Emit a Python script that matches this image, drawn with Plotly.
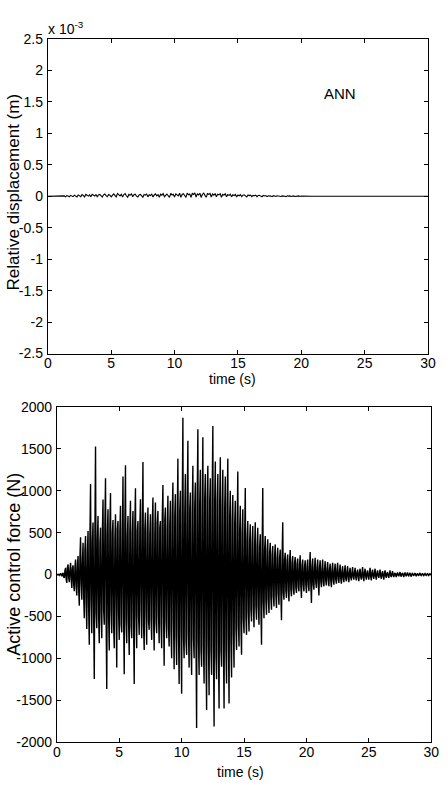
import plotly.graph_objects as go

# ---- data ----
# Active control force (N), sampled every 0.05 s from 0 to 30 s (one row = 1 s)
force_dt = 0.05
force = [
    0, -3, 5, 2, -10, 4, 15, -8, -20, 10, 20, -30, -40, 50, 80, -60, -100, 90, 120, -40,
    -90, 60, 140, -50, -160, 80, 110, -120, -200, 90, 180, -150, -250, 120, 220, -180, -371, 200, 444, -100,
    -300, 150, 380, -260, -520, 300, 460, -350, -650, 280, 520, -400, -838, 450, 1080, -300, -700, 400, 620, -500,
    -1248, 500, 1530, -450, -640, 420, 700, -500, -820, 380, 560, -480, -760, 520, 896, -420, -600, 600, 1150, -550,
    -1365, 480, 780, -520, -907, 560, 974, -450, -700, 500, 650, -600, -880, 420, 720, -380, -1111, 550, 640, -470,
    -780, 520, 820, -600, -690, 480, 1170, -500, -1189, 620, 1305, -540, -820, 450, 700, -560, -960, 530, 880, -610,
    -760, 500, 760, -580, -1306, 600, 1030, -470, -880, 520, 640, -500, -720, 560, 900, -430, -760, 580, 1345, -620,
    -900, 540, 740, -480, -838, 500, 800, -560, -660, 470, 720, -530, -780, 600, 920, -520, -907, 480, 860, -570,
    -700, 620, 760, -500, -820, 560, 640, -600, -880, 700, 1070, -480, -1090, 650, 800, -560, -760, 540, 940, -640,
    -860, 600, 880, -680, -1000, 720, 1100, -560, -1130, 700, 960, -720, -1080, 650, 1384, -700, -1306, 760, 1000, -680,
    -1423, 800, 1871, -760, -1000, 720, 1200, -800, -960, 850, 1598, -700, -1111, 780, 980, -820, -1200, 740, 1300, -760,
    -1000, 820, 1100, -760, -1833, 900, 1734, -800, -1200, 860, 1250, -900, -1100, 780, 1640, -850, -1300, 920, 1200, -880,
    -1618, 900, 1300, -820, -1440, 880, 1150, -900, -1200, 950, 1773, -860, -1813, 900, 1350, -960, -1250, 880, 1200, -920,
    -1600, 860, 1400, -900, -1100, 820, 1250, -860, -1600, 780, 1170, -900, -1300, 840, 1384, -760, -1540, 700, 1000, -800,
    -1228, 640, 950, -700, -1111, 600, 880, -640, -900, 560, 1230, -600, -860, 520, 820, -580, -956, 500, 780, -540,
    -700, 460, 1033, -500, -720, 420, 640, -460, -680, 400, 600, -420, -560, 380, 580, -400, -630, 360, 623, -380,
    -540, 340, 560, -380, -600, 320, 480, -360, -838, 300, 1033, -340, -520, 300, 460, -320, -480, 280, 420, -300,
    -460, 260, 380, -280, -420, 240, 340, -260, -380, 220, 360, -240, -400, 200, 320, -220, -360, 200, 300, -210,
    -546, 200, 623, -220, -300, 180, 260, -200, -280, 170, 240, -190, -320, 160, 292, -180, -260, 150, 220, -170,
    -240, 140, 210, -160, -220, 130, 190, -150, -200, 120, 230, -140, -280, 110, 180, -130, -200, 100, 170, -120,
    -220, 100, 180, -120, -200, 90, 270, -110, -340, 100, 190, -120, -180, 90, 200, -100, -160, 80, 180, -100,
    -250, 90, 170, -80, -150, 70, 180, -90, -140, 60, 160, -80, -130, 70, 150, -60, -140, 60, 130, -70,
    -150, 60, 140, -70, -120, 50, 130, -60, -110, 60, 140, -50, -100, 40, 120, -50, -110, 40, 100, -45,
    -90, 40, 110, -45, -80, 35, 100, -40, -90, 30, 80, -35, -70, 30, 90, -30, -60, 25, 80, -30,
    -70, 25, 60, -30, -80, 30, 70, -25, -60, 20, 90, -30, -80, 25, 70, -20, -60, 20, 50, -25,
    -60, 20, 80, -25, -70, 20, 60, -20, -50, 18, 70, -22, -60, 18, 50, -15, -40, 15, 60, -20,
    -50, 15, 40, -18, -60, 15, 50, -15, -40, 12, 30, -12, -40, 10, 50, -12, -30, 10, 40, -10,
    -30, 10, 20, -8, -30, 10, 25, -8, -20, 8, 30, -10, -25, 8, 20, -6, -30, 8, 25, -6,
    -20, 6, 25, -6, -15, 5, 20, -6, -25, 5, 20, -5, -15, 4, 18, -5, -20, 4, 15, -4,
    -15, 4, 20, -4, -12, 3, 15, -3, -18, 3, 12, -3, -10, 2, 15, -3, -12, 2, 10, -2,
    0,
]

# Relative displacement (x 10^-3 m), sampled every 0.1 s from 0 to 30 s
disp_dt = 0.1
disp = (
    [0] * 13
    + [0.006, -0.008, 0.012, 0.003, -0.008, 0.015, 0.006, -0.006, 0.018, 0.009]
    + [-0.009, 0.022, 0.012, -0.006, 0.027, 0.015, -0.012, 0.03, 0.018, 0.003]
    + [0.024, -0.009, 0.033, 0.015, 0.006, 0.027, -0.008, 0.021, 0.03, 0.009]
    + [-0.012, 0.024, 0.036, 0.012, -0.006, 0.03, 0.018, -0.009, 0.027, 0.039]
    + [0.015, -0.009, 0.045, 0.021, 0.006, 0.033, -0.012, 0.027, 0.042, 0.009]
    + [-0.015, 0.03, 0.018, 0.039, -0.006, 0.024, 0.033, 0.003, -0.012, 0.021]
    + [0.03, 0.009, -0.015, 0.027, 0.018, 0.036, -0.009, 0.024, 0.012, 0.033]
    + [-0.012, 0.021, 0.039, 0.006, 0.027, -0.015, 0.033, 0.018, 0.042, -0.006]
    + [0.024, 0.036, 0.009, -0.018, 0.045, 0.021, 0.033, -0.012, 0.039, 0.027]
    + [0.006, 0.048, -0.015, 0.03, 0.042, 0.012, -0.018, 0.051, 0.024, 0.036]
    + [-0.015, 0.045, 0.03, 0.054, -0.012, 0.039, 0.021, 0.048, -0.018, 0.033]
    + [0.051, 0.015, -0.015, 0.042, 0.03, 0.045, -0.012, 0.036, 0.018, 0.045]
    + [-0.009, 0.033, 0.024, 0.042, -0.015, 0.03, 0.018, 0.039, -0.006, 0.027]
    + [0.015, 0.033, -0.009, 0.024, 0.012, 0.03, -0.012, 0.021, 0.009, 0.027]
    + [-0.006, 0.018, 0.024, 0.006, -0.009, 0.021, 0.012, 0.018, -0.006, 0.015]
    + [0.009, 0.018, -0.006, 0.012, 0.015, 0.003, -0.008, 0.014, 0.006, 0.012]
    + [-0.005, 0.009, 0.012, 0.003, -0.006, 0.011, 0.006, -0.003, 0.009, 0.005]
    + [0.008, -0.003, 0.006, 0.009, 0.002, -0.005, 0.008, 0.003, 0.006, -0.003]
    + [0.005, 0.006, -0.003, 0.005, 0.003, 0.006, -0.002, 0.005, 0.003, 0.004]
    + [0.001]
    + [0] * 97
)

x_ticks = [0, 5, 10, 15, 20, 25, 30]
disp_ticks = [2.5, 2, 1.5, 1, 0.5, 0, -0.5, -1, -1.5, -2, -2.5]
disp_tick_text = ["2.5", "2", "1.5", "1", "0.5", "0", "-0.5", "-1", "-1.5", "-2", "-2.5"]
force_ticks = [2000, 1500, 1000, 500, 0, -500, -1000, -1500, -2000]
force_tick_text = ["2000", "1500", "1000", "500", "0", "-500", "-1000", "-1500", "-2000"]

# ---- figure ----
W, H = 448, 788
FONT = "Liberation Sans, Arial, sans-serif"

fig = go.Figure()
fig.add_trace(go.Scatter(y=disp, x0=0, dx=disp_dt, mode="lines",
                         line=dict(color="black", width=1.1),
                         xaxis="x", yaxis="y", showlegend=False))
fig.add_trace(go.Scatter(y=force, x0=0, dx=force_dt, mode="lines",
                         line=dict(color="black", width=1.4),
                         xaxis="x2", yaxis="y2", showlegend=False))

def px_x(p):
    return p / W

def px_y(p):
    return 1 - p / H

axis_common = dict(showgrid=False, zeroline=False, showline=True, linecolor="black",
                   linewidth=1, mirror="ticks", ticks="inside", ticklen=4,
                   tickcolor="black", tickwidth=1,
                   tickfont=dict(family=FONT, size=14, color="black"))

fig.update_layout(
    width=W, height=H, margin=dict(l=0, r=0, t=0, b=0),
    paper_bgcolor="white", plot_bgcolor="white",
    xaxis=dict(domain=[px_x(45), px_x(435.7)], range=[0, 30], tickvals=x_ticks,
               anchor="y", ticklabelstandoff=-3, **axis_common),
    yaxis=dict(domain=[px_y(352.7), px_y(31.7)], range=[-2.5, 2.5],
               tickvals=disp_ticks, ticktext=disp_tick_text, anchor="x",
               ticklabelstandoff=1, **axis_common),
    xaxis2=dict(domain=[px_x(54.3), px_x(439)], range=[0, 30], tickvals=x_ticks,
                anchor="y2", ticklabelstandoff=-3, **axis_common),
    yaxis2=dict(domain=[px_y(749.3), px_y(407.3)], range=[-2000, 2000],
                tickvals=force_ticks, ticktext=force_tick_text, anchor="x2",
                ticklabelstandoff=1, **axis_common),
)

def note(x, y, text, size=14, angle=0, xanchor="center"):
    fig.add_annotation(x=px_x(x), y=px_y(y), xref="paper", yref="paper",
                       xanchor=xanchor, yanchor="middle", text=text, textangle=angle,
                       showarrow=False, font=dict(family=FONT, size=size, color="black"))

note(235, 378.5, "time (s)")
note(243, 780, "time (s)")
note(10, 187.5, "Relative displacement (m)", size=17, angle=-90)
note(10, 567.5, "Active control force (N)", size=18, angle=-90)
note(43, 20, "x 10<sup>-3</sup>", xanchor="left")
note(345.5, 87, "ANN", size=15)

fig.write_html("out.html")
